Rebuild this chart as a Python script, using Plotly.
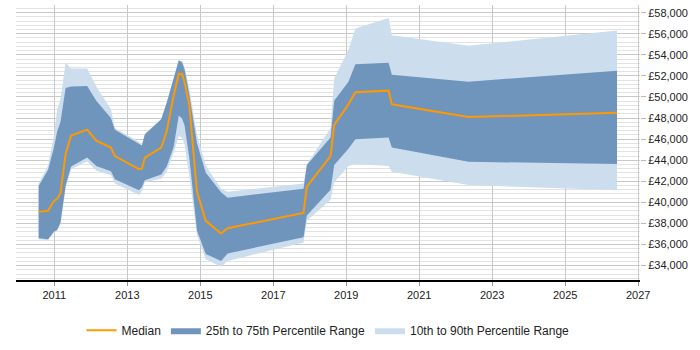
import plotly.graph_objects as go

dates = [2010.57, 2010.83, 2010.98, 2011.08, 2011.17, 2011.31, 2011.46, 2011.9, 2012.15, 2012.55,
         2012.66, 2013.32, 2013.40, 2013.48, 2013.93, 2014.08, 2014.27, 2014.41, 2014.50, 2014.57,
         2014.70, 2014.91, 2015.15, 2015.57, 2015.75, 2017.83, 2017.92, 2018.57, 2018.67, 2019.06,
         2019.25, 2020.16, 2020.25, 2022.35, 2026.42]

median = [39100, 39200, 40100, 40350, 40900, 44600, 46350, 46900, 45850, 45200,
          44400, 43150, 43200, 44250, 45200, 46750, 50100, 52200, 52200, 51400,
          49200, 41000, 38250, 37050, 37550, 39000, 41500, 44400, 47350, 49300,
          50450, 50600, 49300, 48100, 48500]

q75 = [41550, 43100, 45100, 46750, 47650, 50850, 51000, 51050, 49650, 48000,
       46900, 45550, 45400, 46450, 47880, 49450, 51750, 53450, 53300, 52600,
       50200, 45600, 42800, 40950, 40450, 41300, 43550, 46150, 49650, 51450,
       53100, 53250, 52100, 51450, 52500]

q25 = [36600, 36500, 37200, 37400, 38100, 41600, 43400, 44250, 43450, 42950,
       42200, 41150, 41450, 42100, 42650, 43400, 45250, 48250, 47950, 47300,
       44200, 37300, 35100, 34450, 35150, 36700, 38750, 41200, 43550, 45100,
       46000, 46150, 45200, 43850, 43650]

q90 = [41800, 43500, 46200, 48800, 49800, 53250, 52700, 52700, 51000, 48850,
       47050, 45750, 45450, 46500, 47900, 49500, 51800, 53500, 53400, 52800,
       50800, 46400, 43500, 41300, 41000, 41800, 43600, 47050, 51750, 54450,
       56500, 57500, 55850, 54850, 56300]

q10 = [36500, 36400, 37100, 37300, 38000, 41300, 43150, 43900, 43000, 42600,
       41800, 40700, 41050, 41900, 42250, 42900, 44700, 46300, 46100, 45500,
       42500, 36900, 34600, 33900, 34450, 36200, 38250, 40250, 41900, 43450,
       43650, 43450, 42900, 41650, 41150]

tick_years = list(range(2011, 2028, 2))

LIGHT = "rgba(204,221,238,1)"
DARK = "rgba(111,149,189,1)"
ORANGE = "#FF9900"

fig = go.Figure()
fig.add_trace(go.Scatter(x=dates, y=q10, mode="lines", line=dict(width=0, color=LIGHT),
                         showlegend=False, hoverinfo="skip"))
fig.add_trace(go.Scatter(x=dates, y=q90, mode="lines", line=dict(width=0, color=LIGHT),
                         fill="tonexty", fillcolor=LIGHT, name="10th to 90th Percentile Range",
                         legendrank=3))
fig.add_trace(go.Scatter(x=dates, y=q25, mode="lines", line=dict(width=0, color=DARK),
                         showlegend=False, hoverinfo="skip"))
fig.add_trace(go.Scatter(x=dates, y=q75, mode="lines", line=dict(width=0, color=DARK),
                         fill="tonexty", fillcolor=DARK, name="25th to 75th Percentile Range",
                         legendrank=2))
fig.add_trace(go.Scatter(x=dates, y=median, mode="lines", line=dict(width=2, color=ORANGE),
                         name="Median", legendrank=1))

fig.update_layout(
    width=700, height=350,
    margin=dict(l=16, r=60, t=5, b=58),
    paper_bgcolor="white", plot_bgcolor="white",
    font=dict(family="Liberation Sans, Arial, sans-serif", size=11, color="#222"),
    showlegend=True,
    legend=dict(orientation="h", x=0.5, xanchor="center", y=-0.13, yanchor="top",
                font=dict(size=12, color="#222"), itemwidth=30, traceorder="normal"),
    xaxis=dict(range=[2009.95, 2027.05], tickvals=tick_years, ticktext=[str(y) for y in tick_years],
               showgrid=True, gridcolor="#c8c8c8", gridwidth=1,
               showline=True, linecolor="#000000", linewidth=1.5,
               ticks="outside", ticklen=4, tickcolor="#999999",
               zeroline=False),
    yaxis=dict(range=[32636, 58727], side="right", tickprefix="£", tickformat=",d",
               tick0=34000, dtick=2000,
               showgrid=True, gridcolor="#c8c8c8", gridwidth=1,
               ticks="outside", ticklen=5, tickcolor="#bbbbbb",
               minor=dict(dtick=400, tick0=34000, showgrid=True, gridcolor="#e3e3e3", gridwidth=1),
               zeroline=False, showline=False),
)

fig.write_html("out.html")
